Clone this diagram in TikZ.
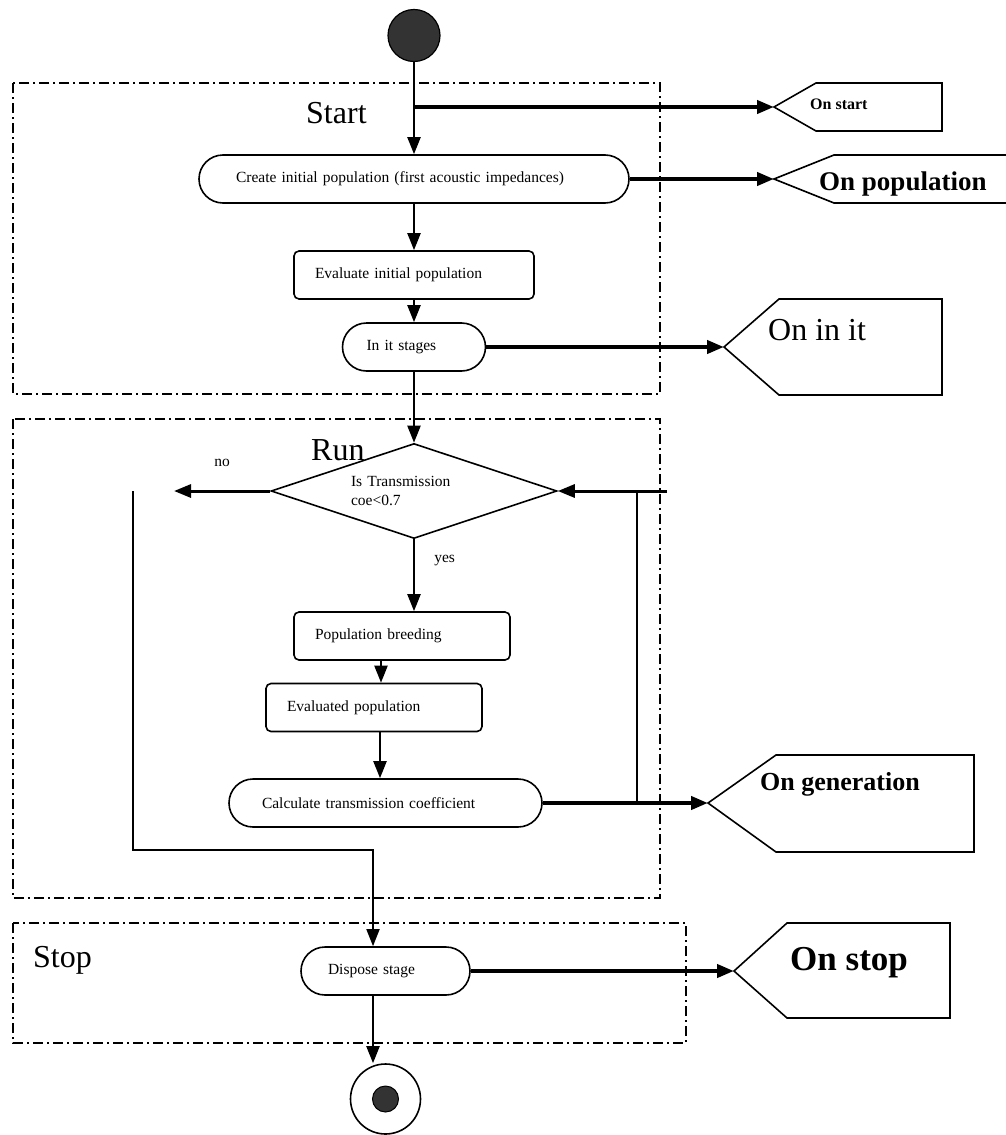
\documentclass[tikz,border=0pt]{standalone}
\usepackage{fontspec}
\setmainfont{Liberation Serif}
\usetikzlibrary{arrows.meta,shapes.geometric}
\definecolor{dotgray}{HTML}{333333}
\tikzset{stage/.style={draw, line width=1.6pt, rounded corners=5pt, minimum height=48pt, inner ysep=2pt, align=left, font=\fontsize{15.5}{18}\selectfont},
  pill/.style={stage, rounded corners=24pt},
  decide/.style={draw, diamond, aspect=3, line width=1.6pt, inner sep=2pt, minimum width=286pt, minimum height=95pt, text width=126pt, align=left, font=\fontsize{15.5}{19.5}\selectfont},
  group/.style={line width=1.2pt, dash pattern=on 10pt off 4pt on 2pt off 4pt},
  grouplabel/.style={font=\fontsize{32}{36}\selectfont, inner sep=0pt},
  sendbox/.style={line width=1.6pt},
  flow/.style={line width=2pt, -{Triangle[length=17pt,width=13pt]}},
  send/.style={flow, line width=4pt},
  loopline/.style={line width=1.6pt},
  small/.style={font=\fontsize{15.5}{18}\selectfont}}

\begin{document}
\begin{tikzpicture}[x=1pt,y=-1pt]
    \useasboundingbox (0,0) rectangle (1005,1135);
    % groups
    \draw[group] (13,83) rectangle (660,394);
    \draw[group] (13,419) rectangle (660,898);
    \draw[group] (13,923) rectangle (686,1043);
    \node[grouplabel, anchor=base west] (lstart) at (306,123) {Start};
    \node[grouplabel, anchor=base west] (lrun) at (311,460) {Run};
    \node[grouplabel, anchor=base west] (lstop) at (33,967) {Stop};
    % activities
    \node[circle, draw, fill=dotgray, line width=1.2pt, minimum size=52pt] (startc) at (414,35.5) {};
    \node[pill, inner xsep=37pt, text width=356pt] (create) at (414,179) {Create initial population (first acoustic impedances)};
    \node[stage, inner xsep=21pt, text width=198pt] (evalinit) at (414,275) {Evaluate initial population};
    \node[pill, inner xsep=24pt, text width=95pt] (init) at (414,347) {In it stages};
    \node[decide] (test) at (414,491) {Is Transmission\\coe<0.7};
    \node[stage, inner xsep=21pt, text width=174pt] (breed) at (402,636) {Population breeding};
    \node[stage, inner xsep=21pt, text width=174pt] (evald) at (374,707.5) {Evaluated population};
    \node[pill, inner xsep=33pt, text width=247pt] (calc) at (385.5,803) {Calculate transmission coefficient};
    \node[pill, inner xsep=27pt, text width=115pt] (dispose) at (385.5,971) {Dispose stage};
    \node[circle, draw, line width=1.6pt, minimum size=70pt] (endc) at (385.5,1099) {};
    \node[circle, draw, fill=dotgray, line width=1pt, minimum size=26pt, inner sep=0pt] (enddot) at (endc) {};
    % send signals
    \coordinate (sstart) at (774,107);
    \draw[sendbox] (sstart) -- ++(42,-24) -- ++(126,0) -- ++(0,48) -- ++(-126,0) -- cycle;
    \node[anchor=base west, inner sep=0pt, font=\bfseries\fontsize{16}{18}\selectfont] (tstart) at (810,109) {On start};
    \coordinate (spop) at (774,179);
    \draw[sendbox] (spop) -- ++(60,-24) -- ++(200,0) -- ++(0,48) -- ++(-200,0) -- cycle;
    \node[anchor=base west, inner sep=0pt, font=\bfseries\fontsize{27}{30}\selectfont] (tpop) at (819,190) {On population};
    \coordinate (sinit) at (724,347);
    \draw[sendbox] (sinit) -- ++(55,-48) -- ++(163,0) -- ++(0,96) -- ++(-163,0) -- cycle;
    \node[anchor=base west, inner sep=0pt, font=\fontsize{32}{36}\selectfont] (tinit) at (768,340) {On in it};
    \coordinate (sgen) at (708,803);
    \draw[sendbox] (sgen) -- ++(68,-48) -- ++(198,0) -- ++(0,97) -- ++(-198,0) -- cycle;
    \node[anchor=base west, inner sep=0pt, font=\bfseries\fontsize{26}{30}\selectfont] (tgen) at (760,790) {On generation};
    \coordinate (sstop) at (734,971);
    \draw[sendbox] (sstop) -- ++(53,-48) -- ++(163,0) -- ++(0,95) -- ++(-163,0) -- cycle;
    \node[anchor=base west, inner sep=0pt, font=\bfseries\fontsize{35}{40}\selectfont] (tstop) at (790,970) {On stop};
    % flow
    \draw[flow] (startc) -- (create);
    \draw[send] (startc |- sstart) -- (sstart);
    \draw[flow] (create) -- (evalinit);
    \draw[send] (create.east) -- (spop);
    \draw[flow] (evalinit) -- (init);
    \draw[send] (init.east) -- (sinit);
    \draw[flow] (init) -- (test);
    \draw[flow] (test.south) -- node[small, pos=.3, right=16pt] (lyes) {yes} (test.south |- breed.north);
    \coordinate (noend) at (174,491);
    \draw[flow, line width=3pt] (test.west) -- node[small, midway, above=20pt] (lno) {no} (noend);
    \draw[flow] ([xshift=-21pt]breed.south) -- ([xshift=-21pt]breed.south |- evald.north);
    \draw[flow] ([xshift=6pt]evald.south) -- ([xshift=6pt]evald.south |- calc.north);
    \draw[send] (calc.east) -- (sgen);
    % loop back
    \coordinate (loopin) at (667,491);
    \coordinate (looptop) at (637,491);
    \draw[flow, line width=3pt] (loopin) -- (test.east);
    \draw[loopline] (looptop) -- (looptop |- calc.east);
    % exit
    \coordinate (exittop) at (133,491);
    \coordinate (merge) at (373,850);
    \draw[flow, line width=1.8pt] (exittop) -- (exittop |- merge) -- (merge) -- (merge |- dispose.north);
    \draw[send] (dispose.east) -- (sstop);
    \draw[flow] (dispose.south -| merge) -- (merge |- endc.north);
\end{tikzpicture}
\end{document}
